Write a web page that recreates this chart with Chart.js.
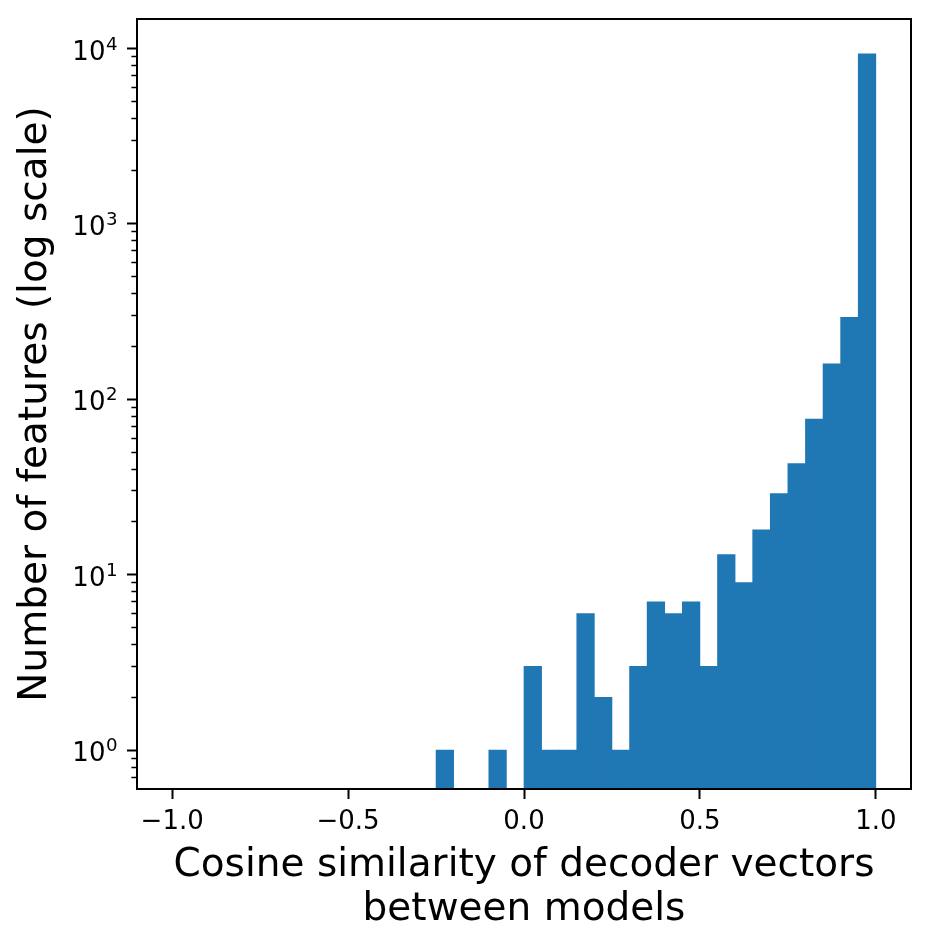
<!DOCTYPE html>
<html>
<head>
<meta charset="utf-8">
<script src="https://cdn.jsdelivr.net/npm/chart.js@4.4.0/dist/chart.umd.min.js"></script>
<style>
  html, body { margin: 0; padding: 0; background: #fff; }
  #wrap { width: 932px; height: 950px; }
</style>
</head>
<body>
<div id="wrap"><canvas id="hist"></canvas></div>
<script>
'use strict';

// histogram bins (width 0.05) and the count in each one
let binEdges = [
  -1.0, -0.95, -0.9, -0.85, -0.8, -0.75, -0.7, -0.65, -0.6, -0.55,
  -0.5, -0.45, -0.4, -0.35, -0.3, -0.25, -0.2, -0.15, -0.1, -0.05,
  0.0, 0.05, 0.1, 0.15, 0.2, 0.25, 0.3, 0.35, 0.4, 0.45,
  0.5, 0.55, 0.6, 0.65, 0.7, 0.75, 0.8, 0.85, 0.9, 0.95, 1.0
];
let counts = [
  0, 0, 0, 0, 0, 0, 0, 0, 0, 0,
  0, 0, 0, 0, 0, 1, 0, 0, 1, 0,
  3, 1, 1, 6, 2, 1, 3, 7, 6, 7,
  3, 13, 9, 18, 29, 43, 77, 159, 293, 9300
];

let xTicks = [-1.0, -0.5, 0.0, 0.5, 1.0];
let xTickLabels = ['\u22121.0', '\u22120.5', '0.0', '0.5', '1.0'];

let yMajorTicks = [1, 10, 100, 1000, 10000];
let yTickBase = '10';
let yTickExponents = ['0', '1', '2', '3', '4'];
let yMinorTicks = [
  0.7, 0.8, 0.9,
  2, 3, 4, 5, 6, 7, 8, 9,
  20, 30, 40, 50, 60, 70, 80, 90,
  200, 300, 400, 500, 600, 700, 800, 900,
  2000, 3000, 4000, 5000, 6000, 7000, 8000, 9000
];

let barColor = '#1f77b4';
let font = "'DejaVu Sans', sans-serif";

let bars = [];
for (let i = 0; i < counts.length; i++) {
  if (counts[i] > 0) {
    bars.push({ x: (binEdges[i] + binEdges[i + 1]) / 2, y: counts[i] });
  }
}

function isMajor(v) {
  return yMajorTicks.includes(v);
}

// full box around the plot like matplotlib spines
let framePlugin = {
  id: 'frame',
  afterDraw(chart) {
    let ctx = chart.ctx;
    let a = chart.chartArea;
    ctx.save();
    ctx.strokeStyle = '#000';
    ctx.lineWidth = 2;
    ctx.strokeRect(a.left, a.top, a.right - a.left, a.bottom - a.top);
    ctx.restore();
  }
};

// y labels as 10 with a raised exponent, placed at the scale's tick pixels
let powerLabelPlugin = {
  id: 'powerLabels',
  afterDraw(chart) {
    let scale = chart.scales.y;
    let ctx = chart.ctx;
    let right = scale.right - 19.5;
    ctx.save();
    ctx.fillStyle = '#000';
    ctx.textAlign = 'right';
    ctx.textBaseline = 'alphabetic';
    for (let i = 0; i < yMajorTicks.length; i++) {
      let py = scale.getPixelForValue(yMajorTicks[i]);
      ctx.font = '18.2px ' + font;
      ctx.fillText(yTickExponents[i], right, py + 1.2);
      let w = ctx.measureText(yTickExponents[i]).width;
      ctx.font = '26px ' + font;
      ctx.fillText(yTickBase, right - w - 0.5, py + 11.2);
    }
    ctx.restore();
  }
};

let ctx = document.getElementById('hist').getContext('2d');
let myChart = new Chart(ctx, {
  type: 'bar',
  data: {
    datasets: [{
      data: bars,
      backgroundColor: barColor,
      borderWidth: 0,
      barPercentage: 1,
      categoryPercentage: 1
    }]
  },
  plugins: [framePlugin, powerLabelPlugin],
  options: {
    responsive: true,
    maintainAspectRatio: false,
    animation: false,
    layout: { padding: { left: 0, top: 19, right: 21, bottom: 0 } },
    plugins: {
      legend: { display: false },
      tooltip: { enabled: false }
    },
    scales: {
      x: {
        type: 'linear',
        min: -1.1,
        max: 1.1,
        offset: false,
        afterBuildTicks: function (scale) {
          scale.ticks = xTicks.map(v => ({ value: v }));
        },
        afterFit: function (scale) {
          scale.height = 161;
          scale.paddingLeft = 0;
          scale.paddingRight = 0;
        },
        grid: {
          offset: false,
          drawOnChartArea: false,
          tickLength: 10,
          tickWidth: 2,
          tickColor: '#000'
        },
        border: { display: true, color: '#000', width: 2 },
        ticks: {
          autoSkip: false,
          maxRotation: 0,
          padding: 8,
          color: '#000',
          font: { family: font, size: 26 },
          callback: function (value) {
            return xTickLabels[xTicks.indexOf(value)];
          }
        },
        title: {
          display: true,
          text: ['Cosine similarity of decoder vectors', 'between models'],
          color: '#000',
          font: { family: font, size: 39, lineHeight: 1.136 },
          padding: { top: 0, bottom: 18 }
        }
      },
      y: {
        type: 'logarithmic',
        min: 0.632,
        max: 14700,
        afterBuildTicks: function (scale) {
          let all = yMajorTicks.concat(yMinorTicks).sort((a, b) => a - b);
          scale.ticks = all.map(v => ({ value: v, major: isMajor(v) }));
        },
        afterFit: function (scale) {
          scale.width = 137;
          scale.paddingTop = 0;
          scale.paddingBottom = 0;
        },
        grid: {
          drawOnChartArea: false,
          tickLength: 10,
          tickColor: '#000',
          tickWidth: c => (isMajor(c.tick.value) ? 2 : 1.6),
          tickBorderDash: c => (isMajor(c.tick.value) ? [] : [0, 4.4, 30, 0])
        },
        border: { display: true, color: '#000', width: 2 },
        ticks: {
          autoSkip: false,
          padding: 10,
          color: '#000',
          font: { family: font, size: 26 },
          callback: function () {
            return '';
          }
        },
        title: {
          display: true,
          text: 'Number of features (log scale)',
          color: '#000',
          font: { family: font, size: 39, lineHeight: 1.136 },
          padding: { top: 13.6, bottom: 0 }
        }
      }
    }
  }
});
</script>
</body>
</html>
